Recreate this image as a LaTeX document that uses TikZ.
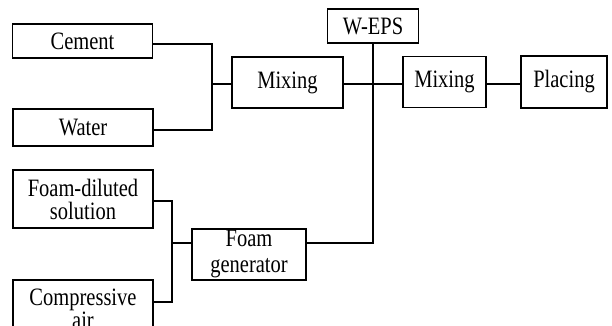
\documentclass[tikz,border=0pt]{standalone}
\usepackage{fontspec}
\setmainfont{Liberation Serif}[FakeStretch=0.82]
\begin{document}
\begin{tikzpicture}[x=1pt,y=-1pt,
  box/.style={draw, line width=1.1pt, inner sep=0pt, align=center,
    font=\fontsize{25}{23}\selectfont},
  conn/.style={line width=1.3pt}]
\clip (0,0) rectangle (612,326);
\node[box, minimum width=140, minimum height=34] (cement) at (82.5,41) {Cement};
\node[box, minimum width=140, minimum height=37] (water) at (83,127.5) {Water};
\node[box, minimum width=111, minimum height=51] (mix1) at (287.5,82.5) {Mixing};
\node[box, minimum width=91, minimum height=34] (weps) at (373,26) {W-EPS};
\node[box, minimum width=83, minimum height=51] (mix2) at (444.5,82) {Mixing};
\node[box, minimum width=86, minimum height=52] (placing) at (564,82) {Placing};
\node[box, minimum width=140, minimum height=58] (foamdil) at (83,199) {Foam-diluted\\solution};
\node[box, minimum width=140, minimum height=58] (comp) at (83,309) {Compressive\\air};
\node[box, minimum width=114, minimum height=51, font=\fontsize{25}{26}\selectfont] (fg) at (249,254.5) {Foam\\generator};
\coordinate (j1) at (212,84);
\coordinate (ycem) at (0,44);
\coordinate (ywat) at (0,130);
\draw[conn] (cement.east |- ycem) -| (j1) |- (water.east |- ywat);
\draw[conn] (j1) -- (mix1.west |- j1);
\draw[conn] (mix1.east |- j1) -- (mix2.west |- j1);
\draw[conn] (mix2.east |- j1) -- (placing.west |- j1);
\coordinate (j2) at (172,243);
\coordinate (yfd) at (0,201);
\coordinate (yca) at (0,302);
\draw[conn] (foamdil.east |- yfd) -| (j2) |- (comp.east |- yca);
\draw[conn] (j2) -- (fg.west |- j2);
\draw[conn] (weps.south) -- (weps.south |- j2) -- (fg.east |- j2);
\end{tikzpicture}
\end{document}
